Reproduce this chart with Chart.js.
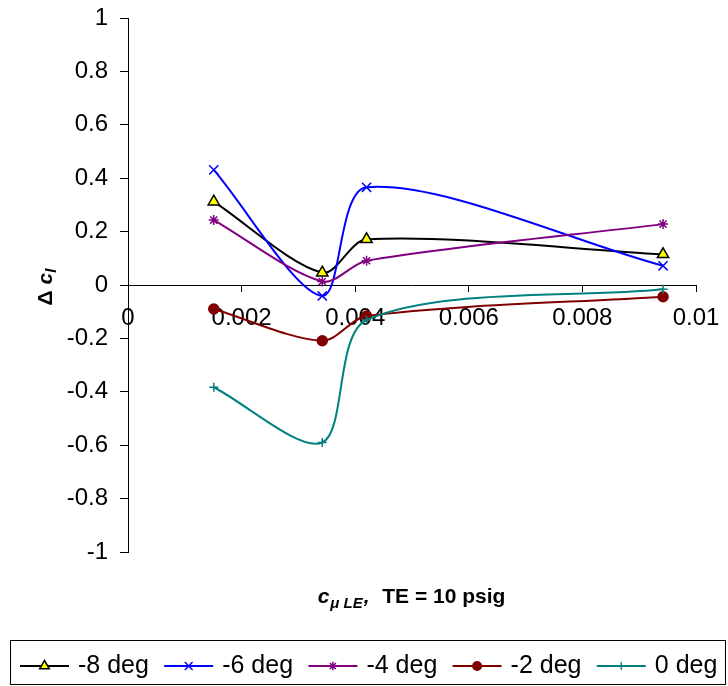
<!DOCTYPE html>
<html>
<head>
<meta charset="utf-8">
<script src="https://cdn.jsdelivr.net/npm/chart.js@4.4.0/dist/chart.umd.min.js"></script>
<style>
  html, body { margin: 0; padding: 0; background: #fff; }
</style>
</head>
<body>
<canvas id="clChart" width="728" height="686"></canvas>
<script>
// c_mu LE values where the runs were taken (same for every angle)
const cmuValues = [0.00151, 0.00342, 0.0042, 0.00942];

// delta c_l for each angle of attack
const deltaClM8 = [0.312, 0.046, 0.171, 0.115];
const deltaClM6 = [0.431, -0.041, 0.366, 0.072];
const deltaClM4 = [0.243, 0.013, 0.091, 0.228];
const deltaClM2 = [-0.09, -0.209, -0.116, -0.044];
const deltaCl0 = [-0.383, -0.59, -0.131, -0.016];

const seriesNames = ['-8 deg', '-6 deg', '-4 deg', '-2 deg', '0 deg'];

const FONT = 'Arial, "Liberation Sans", sans-serif';

function makeSet(label, values, color, style, radius, fill, edge) {
  return {
    label: label,
    data: values.map((v, i) => ({ x: cmuValues[i], y: v })),
    showLine: true,
    borderColor: color,
    borderWidth: 2,
    tension: 0.3,
    pointStyle: style,
    pointRadius: radius,
    pointHoverRadius: radius,
    pointBackgroundColor: fill,
    pointBorderColor: edge,
    pointBorderWidth: 1.5
  };
}

const sets = [
  makeSet(seriesNames[0], deltaClM8, '#000000', 'triangle', 6.5, '#ffff00', '#000000'),
  makeSet(seriesNames[1], deltaClM6, '#0000ff', 'crossRot', 6.5, '#0000ff', '#0000ff'),
  makeSet(seriesNames[2], deltaClM4, '#800080', 'star', 5, '#800080', '#800080'),
  makeSet(seriesNames[3], deltaClM2, '#800000', 'circle', 5, '#800000', '#800000'),
  makeSet(seriesNames[4], deltaCl0, '#008080', 'cross', 4.5, '#008080', '#008080')
];
// later series on top, like the original
sets.forEach((s, i) => { s.order = sets.length - i; });

// axis titles + boxed legend drawn by hand (mixed italic / subscript text)
const extras = {
  id: 'extras',
  afterDraw(chart) {
    const ctx = chart.ctx;
    ctx.save();
    ctx.fillStyle = '#000';
    ctx.textBaseline = 'alphabetic';

    // x title: c_{mu LE},  TE = 10 psig
    const xParts = [
      { t: 'c', f: 'italic bold 21px ' + FONT, dy: 0 },
      { t: 'μ LE', f: 'italic bold 15px ' + FONT, dy: 5 },
      { t: ',', f: 'italic bold 21px ' + FONT, dy: 0 },
      { t: '  TE = 10 psig', f: 'bold 21px ' + FONT, dy: 0 }
    ];
    let total = 0;
    xParts.forEach(p => { ctx.font = p.f; p.w = ctx.measureText(p.t).width; total += p.w + 1; });
    const area = chart.chartArea;
    let cx = (area.left + area.right) / 2 - total / 2;
    xParts.forEach(p => { ctx.font = p.f; ctx.fillText(p.t, cx, 603 + p.dy); cx += p.w + 1; });

    // y title: Δ c_l (rotated)
    ctx.save();
    ctx.translate(52, 287);
    ctx.rotate(-Math.PI / 2);
    const yParts = [
      { t: 'Δ ', f: 'bold 21px ' + FONT, dy: 0 },
      { t: 'c', f: 'italic bold 21px ' + FONT, dy: 0 },
      { t: 'l', f: 'italic bold 15px ' + FONT, dy: 4 }
    ];
    total = 0;
    yParts.forEach(p => { ctx.font = p.f; p.w = ctx.measureText(p.t).width; total += p.w; });
    cx = -total / 2;
    yParts.forEach(p => { ctx.font = p.f; ctx.fillText(p.t, cx, p.dy); cx += p.w; });
    ctx.restore();

    // legend box
    ctx.strokeStyle = '#000';
    ctx.lineWidth = 1;
    ctx.strokeRect(10.5, 640.5, 715, 44);
    ctx.font = '25px ' + FONT;
    sets.forEach((s, i) => {
      const x0 = 20 + 144.2 * i;
      const y0 = 666;
      ctx.strokeStyle = s.borderColor;
      ctx.lineWidth = 2;
      ctx.beginPath();
      ctx.moveTo(x0, y0);
      ctx.lineTo(x0 + 49, y0);
      ctx.stroke();
      ctx.fillStyle = s.pointBackgroundColor;
      ctx.strokeStyle = s.pointBorderColor;
      ctx.lineWidth = 1.5;
      Chart.helpers.drawPoint(ctx, {
        pointStyle: s.pointStyle,
        radius: s.pointRadius * 0.85,
        rotation: 0,
        borderWidth: 1.5
      }, x0 + 24.5, y0);
      ctx.fillStyle = '#000';
      ctx.fillText(s.label, x0 + 58, 673);
    });
    ctx.restore();
  }
};

new Chart(document.getElementById('clChart'), {
  type: 'scatter',
  data: { datasets: sets },
  options: {
    responsive: false,
    animation: false,
    layout: { padding: { left: 0, top: 18, right: 32, bottom: 134 } },
    plugins: {
      legend: { display: false },
      tooltip: { enabled: false }
    },
    scales: {
      x: {
        type: 'linear',
        min: 0,
        max: 0.01,
        position: { y: 0 },
        ticks: {
          stepSize: 0.002,
          autoSkip: false,
          maxRotation: 0,
          padding: 13,
          color: '#000',
          font: { family: FONT, size: 24 },
          callback: v => String(Number(v.toFixed(3)))
        },
        grid: { drawOnChartArea: false, drawTicks: true, tickLength: 6, tickColor: '#000' },
        border: { display: true, color: '#000', width: 1 },
        afterFit: scale => { scale.paddingLeft = 0; scale.paddingRight = 0; }
      },
      y: {
        min: -1,
        max: 1,
        ticks: {
          stepSize: 0.2,
          padding: 12,
          color: '#000',
          font: { family: FONT, size: 24 },
          callback: v => String(Number(v.toFixed(1)))
        },
        grid: { drawOnChartArea: false, drawTicks: true, tickLength: 8, tickColor: '#000' },
        border: { display: true, color: '#000', width: 1 },
        afterFit: scale => { scale.width = 128; scale.paddingTop = 0; scale.paddingBottom = 0; }
      }
    }
  },
  plugins: [extras]
});
</script>
</body>
</html>
